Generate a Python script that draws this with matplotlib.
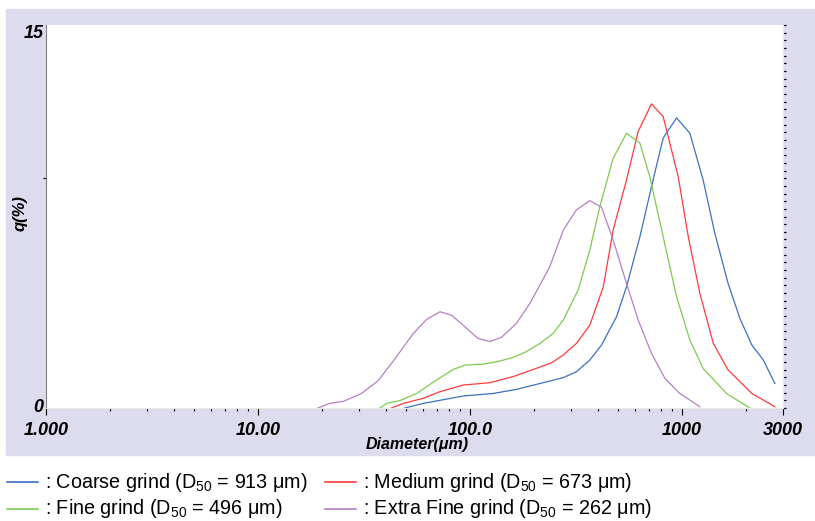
import numpy as np
import matplotlib
matplotlib.use("Agg")
import matplotlib.pyplot as plt
from matplotlib.patches import Rectangle
from matplotlib.lines import Line2D

# particle size distribution
coarse_d = [49.3, 60.2, 93, 129, 166, 214, 276, 318, 368, 418, 492, 548, 634, 719, 816,
            944, 1091, 1260, 1431, 1652, 1878, 2138, 2421, 2747]
coarse_q = [0, 0.18, 0.47, 0.57, 0.73, 0.96, 1.19, 1.42, 1.88, 2.47, 3.58, 4.75, 6.71, 8.67,
            10.57, 11.36, 10.76, 8.93, 6.84, 4.88, 3.51, 2.47, 1.88, 0.96]

medium_d = [42.7, 48.5, 60.2, 72.2, 93, 124, 160, 199, 243, 276, 318, 368, 426, 474, 548,
            622, 719, 816, 961, 1072, 1216, 1407, 1652, 2138, 2747]
medium_q = [0, 0.18, 0.38, 0.64, 0.90, 0.99, 1.23, 1.51, 1.77, 2.08, 2.53, 3.25, 4.75, 6.97,
            8.93, 10.83, 11.91, 11.41, 9.06, 6.71, 4.49, 2.53, 1.49, 0.57, 0.05]

fine_d = [37.6, 40.5, 46.7, 56.1, 69.7, 83.4, 94.7, 116, 134, 160, 185, 214, 247, 276, 324,
          368, 410, 474, 548, 634, 706, 816, 944, 1091, 1260, 1624, 2090]
fine_q = [0, 0.18, 0.29, 0.57, 1.10, 1.51, 1.68, 1.72, 1.81, 1.98, 2.21, 2.53, 2.92, 3.45,
          4.62, 6.19, 7.88, 9.78, 10.76, 10.37, 9.06, 6.71, 4.36, 2.66, 1.55, 0.57, 0]

xfine_d = [19.2, 21.8, 25.3, 30.8, 36.9, 43.5, 54.1, 62.5, 72.2, 82, 94.7, 109, 124, 141,
           166, 192, 238, 276, 318, 368, 418, 474, 548, 622, 719, 832, 977, 1216]
xfine_q = [0, 0.18, 0.26, 0.57, 1.07, 1.84, 2.92, 3.47, 3.77, 3.63, 3.18, 2.73, 2.60, 2.77,
           3.32, 4.10, 5.53, 6.97, 7.76, 8.12, 7.86, 6.58, 4.88, 3.45, 2.14, 1.16, 0.57, 0.05]

x_ticks = [1, 10, 100, 1000, 3000]
x_labels = ["1.000", "10.00", "100.0", "1000", "3000"]
legend_labels = [
    ": Coarse grind (D$_{50}$ = 913 μm)",
    ": Medium grind (D$_{50}$ = 673 μm)",
    ": Fine grind (D$_{50}$ = 496 μm)",
    ": Extra Fine grind (D$_{50}$ = 262 μm)",
]

colors = ["#3d6fc2", "#ff3b3b", "#7dcb4e", "#b47fc8"]
font = ["Liberation Sans", "DejaVu Sans"]
plt.rcParams["mathtext.default"] = "regular"

fig = plt.figure(figsize=(8.15, 5.21), dpi=100)
W, H = 815, 521

# lavender panel behind the chart
fig.patches.append(Rectangle((6 / W, 1 - 455 / H), 809 / W, 446 / H,
                             transform=fig.transFigure, color="#dddcee", zorder=-1))

ax = fig.add_axes([46 / W, 1 - 408 / H, 737 / W, 383 / H])
ax.set_facecolor("white")

series = [(coarse_d, coarse_q), (medium_d, medium_q), (fine_d, fine_q), (xfine_d, xfine_q)]
for (d, q), c in zip(series, colors):
    ax.plot(d, q, color=c, lw=0.9)

ax.set_xscale("log")
ax.set_xlim(1, 3000)
ax.set_ylim(0, 15)

ax.set_xticks(x_ticks)
ax.set_xticklabels(x_labels)
minor = [m * 10 ** e for e in range(4) for m in range(2, 10) if m * 10 ** e < 3000]
ax.set_xticks(minor, minor=True)
ax.tick_params(axis="x", which="major", length=5, width=0.8, direction="out", pad=5)
ax.tick_params(axis="x", which="minor", length=2, width=0.8, direction="out")

ax.set_yticks([0, 15])
ax.set_yticklabels(["0", "15"])
ax.set_yticks([9], minor=True)
ax.tick_params(axis="y", which="major", length=0, pad=2)
ax.tick_params(axis="y", which="minor", length=2, width=0.8, direction="out")
ylabs = ax.get_yticklabels()
ylabs[0].set_verticalalignment("center")
ylabs[1].set_verticalalignment("top")

for lab in ax.get_xticklabels() + ylabs:
    lab.set_family(font)
    lab.set_fontweight("bold")
    lab.set_fontstyle("italic")
    lab.set_fontsize(13)

sec = ax.secondary_yaxis("right")
sec.set_yticks(np.arange(0, 15.01, 0.3))
sec.tick_params(length=2, width=0.9, direction="out", labelright=False)
sec.spines["right"].set_color("#ece8e0")

ax.spines["top"].set_visible(False)
ax.spines["right"].set_color("#ece8e0")
ax.spines["bottom"].set_color("#ece8e0")
ax.spines["left"].set_color("#808080")
ax.spines["left"].set_linewidth(0.8)

fig.text(417 / W, 1 - 444 / H, "Diameter(μm)", ha="center", va="center",
         family=font, fontweight="bold", fontstyle="italic", fontsize=11.5)
fig.text(20 / W, 1 - 213 / H, "q(%)", ha="center", va="center", rotation=90,
         family=font, fontweight="bold", fontstyle="italic", fontsize=12)

# legend below the panel
pos = [(7, 482), (325, 482), (7, 509), (325, 509)]
for (x0, y0), c, text in zip(pos, colors, legend_labels):
    fig.lines.append(Line2D([x0 / W, (x0 + 31) / W], [1 - y0 / H, 1 - y0 / H],
                            transform=fig.transFigure, color=c, lw=1.2))
    fig.text((x0 + 38) / W, 1 - y0 / H, text, ha="left", va="center",
             family=font, fontsize=14.2)

fig.savefig("out.png", dpi=100)
